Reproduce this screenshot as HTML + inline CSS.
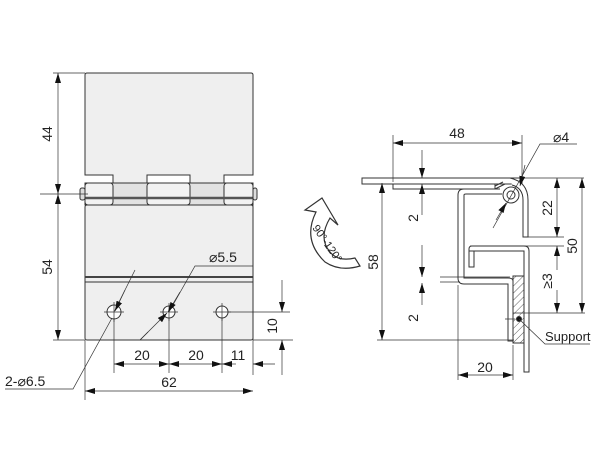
<!DOCTYPE html>
<html><head><style>html,body{margin:0;padding:0;background:#fff}svg{display:block}text{font-family:"Liberation Sans",sans-serif;fill:#222}</style></head>
<body>
<svg width="600" height="450" viewBox="0 0 600 450" xmlns="http://www.w3.org/2000/svg">
<defs>
<marker id="a" viewBox="0 0 10 6" refX="10" refY="3" markerWidth="10" markerHeight="6" orient="auto-start-reverse" markerUnits="userSpaceOnUse"><path d="M0,0L10,3L0,6z" fill="#111"/></marker>
<pattern id="h" width="5" height="5" patternUnits="userSpaceOnUse" patternTransform="rotate(45)"><line x1="0" y1="0" x2="0" y2="5" stroke="#333" stroke-width="0.8"/></pattern>
</defs>
<g stroke="#333" stroke-width="1" fill="none">
<path d="M85,75 Q85,73 87,73 L251,73 Q253,73 253,75 L253,175 L224,175 L224,183 L190,183 L190,175 L147,175 L147,183 L113,183 L113,175 L85,175 Z" fill="#efefef"/>
<rect x="85" y="183" width="168" height="22" fill="#e2e2e2"/>
<rect x="85" y="183" width="28" height="22" rx="3" fill="#f2f2f2"/>
<rect x="147" y="183" width="43" height="22" rx="3" fill="#f2f2f2"/>
<rect x="224" y="183" width="29" height="22" rx="3" fill="#f2f2f2"/>
<line x1="85" y1="198" x2="253" y2="198" stroke-width="2.5" stroke="#555"/>
<rect x="80" y="188" width="5" height="12" rx="2" fill="#ddd"/>
<rect x="253" y="188" width="4" height="12" rx="2" fill="#ddd"/>
<rect x="85" y="205" width="168" height="135" rx="2" fill="#efefef"/>
<line x1="85" y1="277" x2="253" y2="277" stroke-width="2" stroke="#444"/>
<line x1="85" y1="282" x2="253" y2="282"/>
<circle cx="114" cy="312" r="7" fill="#fff"/><circle cx="169" cy="312" r="6" fill="#fff"/><circle cx="222" cy="312" r="6" fill="#fff"/>
<g stroke-width="0.7"><path d="M104,312h20M114,302v20M160,312h18M169,303v18M213,312h18M222,303v18"/></g>
<g stroke-width="0.7">
<path d="M53,73h32M53,340h32M40,194h48M85,340v60M253,205v170M114,318v55M169,318v55M222,318v55M228,312h62M253,340h40"/>
<line x1="58" y1="73" x2="58" y2="194" marker-start="url(#a)" marker-end="url(#a)"/>
<line x1="58" y1="194" x2="58" y2="340" marker-start="url(#a)" marker-end="url(#a)"/>
<line x1="85" y1="391" x2="253" y2="391" marker-start="url(#a)" marker-end="url(#a)"/>
<line x1="114" y1="364" x2="169" y2="364" marker-start="url(#a)" marker-end="url(#a)"/>
<line x1="169" y1="364" x2="222" y2="364" marker-start="url(#a)" marker-end="url(#a)"/>
<line x1="236" y1="364" x2="222" y2="364" marker-end="url(#a)"/>
<line x1="275" y1="364" x2="253" y2="364" marker-end="url(#a)"/>
<line x1="282" y1="280" x2="282" y2="312" marker-end="url(#a)"/>
<line x1="282" y1="375" x2="282" y2="340" marker-end="url(#a)"/>
<path d="M253,266h-58L169,312" /><line x1="180" y1="292" x2="168" y2="312" marker-end="url(#a)"/>
<path d="M135,270L114,312" /><line x1="125" y1="290" x2="115" y2="311" marker-end="url(#a)"/>
<path d="M5,389H73L112,318" /><line x1="140" y1="340" x2="167" y2="313" marker-end="url(#a)"/><path d="M140,340L148,332"/>
</g>
<path d="M362,178h160v6H362z" fill="#fff"/>
<path d="M393,184h102v5H393z" fill="#fff"/>
<path d="M495,189 L505,184 M495,186L503,182" />
<path d="M510,178 Q528,182 528,200 L528,237 L523,237 L523,200 Q523,188 512,185" fill="#fff"/>
<circle cx="511" cy="195" r="8" fill="#fff"/><circle cx="511" cy="195" r="4"/>
<path d="M500,189 H464 Q458,189 458,195 V278 Q458,284 464,284 H508 V341 H513 V281 Q513,278 508,278 H464 V195 Q464,194 466,194 H502" fill="#fff"/>
<path d="M469,267 V251 H524 V372 H529 V251 Q529,246 524,246 H472 Q469,246 469,249 V267 H474 V251" fill="#fff"/>
<rect x="513" y="276" width="11" height="67" fill="url(#h)"/>
<circle cx="519" cy="319" r="2.5" fill="#111"/>
<g stroke-width="0.7">
<path d="M393,135v47M522,135v45M522,178h62M528,237h36M470,246h94M513,313h72M377,340h137M458,285v95M513,345v35M440,277h70M440,282h20M505,319h10"/>
<line x1="393" y1="143" x2="522" y2="143" marker-start="url(#a)" marker-end="url(#a)"/>
<line x1="382" y1="183" x2="382" y2="340" marker-start="url(#a)" marker-end="url(#a)"/>
<line x1="582" y1="178" x2="582" y2="313" marker-start="url(#a)" marker-end="url(#a)"/>
<line x1="557" y1="178" x2="557" y2="237" marker-start="url(#a)" marker-end="url(#a)"/>
<line x1="557" y1="270" x2="557" y2="246" marker-end="url(#a)"/>
<line x1="557" y1="290" x2="557" y2="313" marker-end="url(#a)"/>
<line x1="458" y1="375" x2="513" y2="375" marker-start="url(#a)" marker-end="url(#a)"/>
<line x1="422" y1="150" x2="422" y2="178" marker-end="url(#a)"/><line x1="422" y1="215" x2="422" y2="184" marker-end="url(#a)"/>
<line x1="422" y1="245" x2="422" y2="277" marker-end="url(#a)"/><line x1="422" y1="305" x2="422" y2="283" marker-end="url(#a)"/>
<path d="M577,144H540L493,228"/><line x1="525" y1="165" x2="520" y2="186" marker-end="url(#a)"/>
<line x1="496" y1="220" x2="506" y2="203" marker-end="url(#a)"/>
<path d="M519,319L545,344H590"/>
</g>
<path d="M322,198 L305,210 L316,212 Q302,240 325,262 Q340,272 360,266 L355,258 Q338,262 330,252 Q318,238 330,218 L338,225 Z" fill="#fff" stroke-width="1.2"/>
</g>
<g font-size="14">
<text transform="translate(52,134) rotate(-90)" text-anchor="middle">44</text>
<text transform="translate(52,267) rotate(-90)" text-anchor="middle">54</text>
<text x="169" y="387" text-anchor="middle">62</text>
<text x="142" y="360" text-anchor="middle">20</text>
<text x="196" y="360" text-anchor="middle">20</text>
<text x="238" y="360" text-anchor="middle">11</text>
<text transform="translate(277,326) rotate(-90)" text-anchor="middle">10</text>
<text x="209" y="262">⌀5.5</text>
<text x="5" y="386">2-⌀6.5</text>
<text x="457" y="138" text-anchor="middle">48</text>
<text x="553" y="142">⌀4</text>
<text transform="translate(378,262) rotate(-90)" text-anchor="middle">58</text>
<text transform="translate(577,246) rotate(-90)" text-anchor="middle">50</text>
<text transform="translate(552,208) rotate(-90)" text-anchor="middle">22</text>
<text transform="translate(552,281) rotate(-90)" text-anchor="middle">≥3</text>
<text transform="translate(418,218) rotate(-90)" text-anchor="middle">2</text>
<text transform="translate(418,318) rotate(-90)" text-anchor="middle">2</text>
<text x="485" y="372" text-anchor="middle">20</text>
<text x="545" y="341" font-size="13">Support</text>
<text transform="translate(312,228) rotate(55)" font-size="11">90°-120°</text>
</g>
</svg>
</body></html>
